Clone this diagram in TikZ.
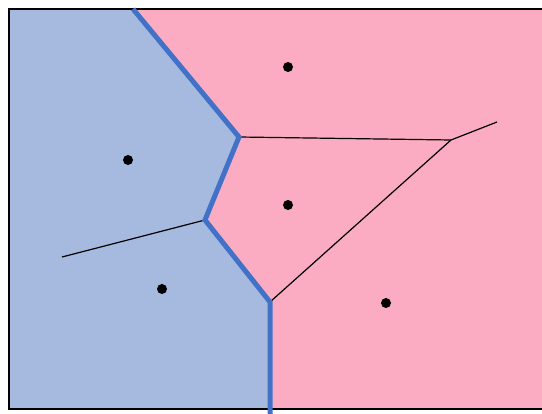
\documentclass[tikz,border=0pt]{standalone}
\definecolor{bluefill}{RGB}{166,186,224}
\definecolor{pinkfill}{RGB}{252,172,194}
\definecolor{bluebound}{RGB}{66,114,200}
\tikzset{
  site/.style={circle,fill=black,inner sep=0pt,minimum size=10pt},
  edge/.style={black,line width=1.2pt},
  boundary/.style={bluebound,line width=5pt,line join=miter},
  frame/.style={black,line width=2pt}
}
\begin{document}
\begin{tikzpicture}[x=1pt,y=-1pt]
\useasboundingbox (0,0) rectangle (542,414);
% regions
\coordinate (t0) at (133,9);
\coordinate (v1) at (239,137);
\coordinate (v2) at (205,220);
\coordinate (v3) at (270,302);
\coordinate (b0) at (270,409);
\coordinate (b1) at (270,414);
\coordinate (v4) at (451,140);
\coordinate (e1) at (497,122);
\coordinate (e2) at (62,257);
\fill[pinkfill] (9,9) rectangle (542,409);
\fill[bluefill] (9,9) -- (t0) -- (v1) -- (v2) -- (v3) -- (b0) -- (9,409) -- cycle;
% thin edges
\draw[edge] (v1) -- (v4) -- (e1);
\draw[edge] (v4) -- (v3);
\draw[edge] (v2) -- (e2);
% frame
\draw[frame] (542,9) -- (9,9) -- (9,409) -- (542,409);
% boundary
\draw[boundary] (t0) -- (v1) -- (v2) -- (v3) -- (b1);
% sites
\node[site] (s1) at (288,67) {};
\node[site] (s2) at (128,160) {};
\node[site] (s3) at (288,205) {};
\node[site] (s4) at (162,289) {};
\node[site] (s5) at (386,303) {};
\end{tikzpicture}
\end{document}
